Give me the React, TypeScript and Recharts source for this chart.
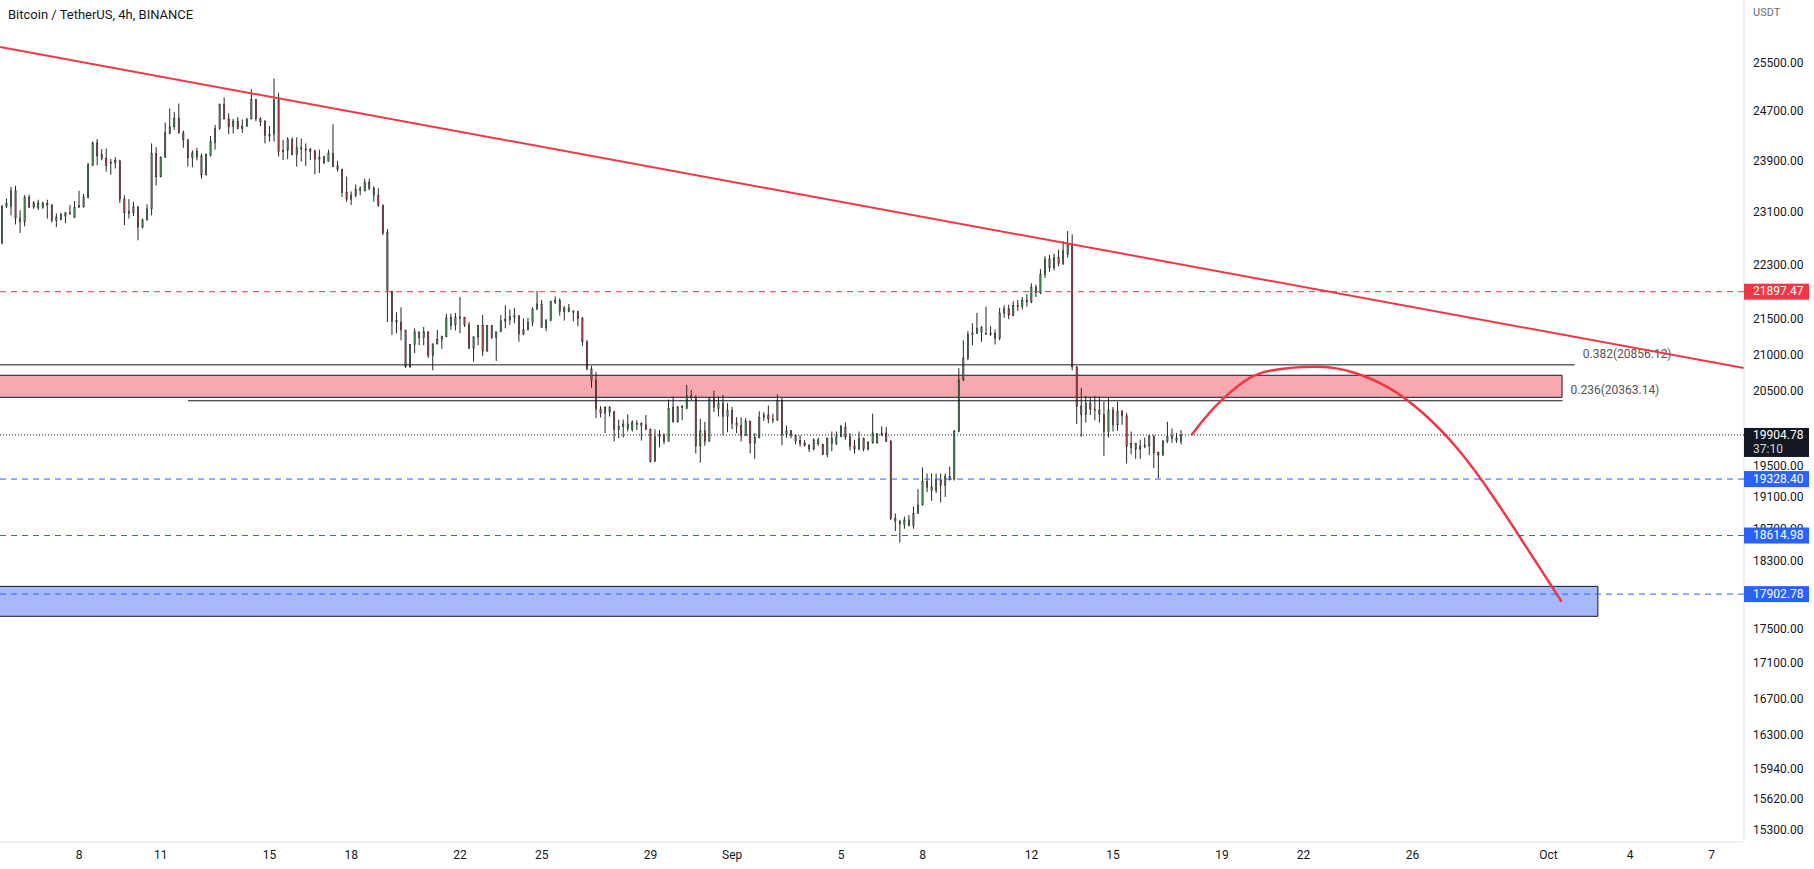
import React from "react";
import { ComposedChart, Bar, Line, XAxis, YAxis, ReferenceLine, ReferenceArea } from "recharts";

// BTC/USDT 4h candles, index 0 = Aug 5 00:00, one step = 4 hours
const candleOpen = [
  22400, 22620, 23180, 23180, 23420, 22940, 22940, 23320, 23170, 23160, 23160, 23220, 23200, 22960, 22980, 23030, 23060, 23010, 23160, 23170,
  23320, 23820, 24180, 23990, 23930, 23870, 23860, 23890, 23290, 23070, 23080, 23170, 22860, 22970, 23140, 24010, 23640, 23950, 24330, 24440,
  24580, 24340, 24230, 23940, 23950, 23970, 23670, 23980, 24180, 24410, 24810, 24570, 24450, 24530, 24410, 24450, 24570, 24890, 24570, 24530,
  24320, 24320, 24880, 24050, 24060, 24230, 23990, 24100, 24080, 24070, 24050, 23950, 23860, 23880, 24010, 23810, 23760, 23390, 23290, 23350,
  23430, 23420, 23550, 23460, 23350, 23200, 22780, 21900, 21480, 21460, 21346, 20830, 21140, 21318, 21240, 21320, 20990, 21150, 21210, 21250,
  21410, 21420, 21530, 21530, 21420, 21090, 21250, 21410, 21050, 21410, 21240, 21320, 21475, 21490, 21530, 21550, 21290, 21350, 21450, 21640,
  21720, 21380, 21480, 21740, 21770, 21610, 21610, 21620, 21610, 21510, 21180, 20800, 20640, 20250, 20200, 20270, 20210, 19980, 20020, 19990,
  19980, 20050, 20060, 20040, 19980, 19555, 19880, 19900, 19820, 20270, 20080, 20270, 20260, 20430, 20410, 19760, 19960, 19820, 20410, 20260,
  20330, 20150, 20230, 20060, 20030, 19900, 20090, 19800, 19870, 20140, 20170, 20120, 20100, 20370, 19910, 19960, 19900, 19830, 19800, 19770,
  19720, 19790, 19780, 19650, 19790, 19790, 19880, 20010, 19880, 19760, 19720, 19860, 19720, 19800, 19800, 19930, 19930, 19820, 18830, 18760,
  18750, 18740, 18740, 18890, 19000, 19300, 19230, 19180, 19320, 19250, 19320, 19330, 19950, 20650, 20950, 21280, 21300, 21310, 21300, 21290,
  21300, 21230, 21590, 21650, 21560, 21700, 21680, 21770, 21750, 21960, 21880, 22150, 22380, 22250, 22400, 22310, 22450, 22600, 20830, 20290,
  20180, 20330, 20250, 20240, 20180, 19950, 20240, 20040, 20220, 20160, 19740, 19790, 19720, 19750, 19760, 19890, 19680, 19640, 19820, 19860,
  19830, 19820,
];
const candleHigh = [
  22640, 23200, 23300, 23480, 23500, 23120, 23350, 23360, 23260, 23280, 23250, 23280, 23210, 23070, 23080, 23090, 23200, 23260, 23420, 23370,
  23860, 24200, 24240, 24080, 24090, 23920, 23950, 23910, 23350, 23290, 23250, 23180, 22990, 23210, 24170, 24110, 23960, 24510, 24740, 24680,
  24820, 24380, 24240, 24060, 24100, 24010, 24010, 24290, 24470, 24820, 24920, 24660, 24570, 24600, 24560, 24570, 25060, 24890, 24600, 24550,
  24450, 25240, 25000, 24225, 24270, 24270, 24270, 24250, 24170, 24100, 24070, 24070, 23960, 24070, 24480, 23890, 23760, 23640, 23410, 23520,
  23490, 23610, 23610, 23490, 23460, 23200, 22830, 21910, 21600, 21670, 21346, 21144, 21370, 21318, 21390, 21320, 21150, 21346, 21260, 21580,
  21580, 21590, 21820, 21530, 21460, 21250, 21410, 21560, 21410, 21410, 21320, 21560, 21700, 21640, 21660, 21560, 21510, 21520, 21670, 21910,
  21780, 21490, 21760, 21830, 21800, 21690, 21720, 21620, 21610, 21530, 21200, 20840, 20760, 20290, 20290, 20290, 20230, 20110, 20110, 20180,
  20100, 20100, 20070, 20170, 19990, 19980, 19970, 19930, 20380, 20420, 20290, 20300, 20580, 20510, 20440, 20120, 20080, 20410, 20500, 20420,
  20440, 20330, 20280, 20140, 20140, 20130, 20090, 19930, 20220, 20210, 20300, 20190, 20450, 20400, 20030, 19970, 19910, 19900, 19840, 19780,
  19860, 19870, 19790, 19870, 19950, 19950, 20040, 20070, 19930, 19840, 19950, 19870, 19820, 20190, 19930, 20020, 20010, 19840, 18890, 18810,
  18850, 18870, 18980, 19200, 19480, 19400, 19400, 19400, 19400, 19400, 19490, 19970, 20810, 21200, 21330, 21440, 21590, 21400, 21680, 21400,
  21350, 21660, 21700, 21710, 21760, 21780, 21820, 21860, 22020, 22000, 22230, 22420, 22440, 22460, 22520, 22650, 22800, 22750, 20830, 20540,
  20430, 20420, 20430, 20420, 20350, 20400, 20280, 20350, 20240, 20200, 19950, 19800, 19840, 19870, 19910, 19900, 19680, 19840, 20080, 19990,
  19930, 19970,
];
const candleLow = [
  22300, 22600, 23150, 23040, 22900, 22770, 22870, 23150, 23140, 23120, 23140, 22990, 22930, 22860, 22960, 22920, 23050, 23000, 23160, 23160,
  23300, 23810, 23820, 23900, 23720, 23670, 23770, 23230, 22890, 22990, 23030, 22660, 22840, 22960, 23040, 23500, 23630, 23940, 24320, 24390,
  24330, 24100, 23800, 23790, 23900, 23610, 23660, 23960, 24070, 24390, 24560, 24320, 24330, 24400, 24340, 24440, 24560, 24530, 24450, 24170,
  24200, 24200, 23960, 23905, 23920, 23980, 23800, 23880, 23810, 23905, 23680, 23700, 23840, 23880, 23790, 23720, 23320, 23250, 23200, 23320,
  23350, 23410, 23430, 23250, 23170, 22740, 21460, 21275, 21300, 21200, 20815, 20815, 21020, 21130, 21130, 20950, 20780, 21140, 21080, 21250,
  21350, 21340, 21300, 21390, 21080, 20900, 21130, 20980, 21040, 21220, 20910, 21320, 21370, 21420, 21440, 21180, 21270, 21340, 21400, 21640,
  21380, 21330, 21470, 21720, 21550, 21480, 21600, 21470, 21400, 21120, 20780, 20540, 20130, 20140, 19930, 20150, 19820, 19860, 19870, 19950,
  19950, 19970, 19830, 19970, 19540, 19555, 19740, 19780, 19820, 20070, 20070, 20100, 20250, 20370, 19660, 19540, 19760, 19820, 20210, 20150,
  19900, 19940, 19980, 19930, 19820, 19890, 19660, 19590, 19860, 20090, 20060, 20060, 20100, 19770, 19870, 19860, 19780, 19750, 19750, 19680,
  19700, 19760, 19640, 19610, 19690, 19770, 19880, 19840, 19700, 19660, 19700, 19690, 19700, 19790, 19790, 19890, 19820, 18810, 18670, 18530,
  18700, 18730, 18700, 18890, 18990, 19160, 19050, 19150, 19030, 19100, 19310, 19310, 19940, 20630, 20920, 21130, 21290, 21180, 21280, 21260,
  21140, 21200, 21520, 21500, 21540, 21620, 21640, 21680, 21730, 21820, 21860, 22100, 22190, 22210, 22270, 22290, 22400, 20780, 20050, 19880,
  20070, 20170, 20100, 20070, 19630, 19870, 19950, 19960, 20040, 19530, 19650, 19590, 19590, 19730, 19640, 19470, 19340, 19630, 19800, 19800,
  19800, 19780,
];
const candleClose = [
  22620, 23180, 23220, 23420, 23000, 23000, 23320, 23170, 23230, 23230, 23230, 23200, 22960, 23010, 23050, 23080, 23080, 23160, 23190, 23320,
  23830, 24180, 23970, 23930, 23820, 23850, 23900, 23290, 23080, 23100, 23170, 22860, 22970, 23140, 24010, 23640, 23950, 24340, 24440, 24580,
  24340, 24230, 23940, 24020, 24040, 23670, 23990, 24200, 24410, 24810, 24570, 24440, 24530, 24410, 24450, 24570, 24890, 24570, 24520, 24300,
  24290, 24880, 24040, 24060, 24240, 23990, 24100, 24080, 24070, 24040, 23920, 23920, 23960, 24010, 23800, 23760, 23390, 23290, 23350, 23445,
  23450, 23550, 23460, 23350, 23200, 22770, 21920, 21465, 21460, 21346, 20830, 21140, 21320, 21240, 21320, 20990, 21150, 21210, 21260, 21520,
  21530, 21530, 21525, 21420, 21090, 21250, 21410, 21050, 21410, 21240, 21320, 21475, 21500, 21540, 21550, 21290, 21350, 21450, 21640, 21720,
  21380, 21490, 21760, 21770, 21610, 21660, 21660, 21600, 21510, 21180, 20800, 20640, 20250, 20200, 20270, 20210, 19980, 20020, 20050, 20050,
  20070, 20060, 20030, 19980, 19555, 19880, 19910, 19820, 20260, 20080, 20280, 20290, 20430, 20410, 19760, 19960, 19820, 20410, 20270, 20330,
  20150, 20230, 20060, 20030, 19900, 20090, 19800, 19870, 20140, 20170, 20120, 20100, 20370, 19910, 19960, 19900, 19820, 19790, 19770, 19720,
  19840, 19840, 19650, 19860, 19860, 19880, 20016, 19880, 19750, 19720, 19860, 19720, 19810, 19930, 19920, 19905, 19820, 18830, 18790, 18790,
  18810, 18810, 18890, 19000, 19300, 19220, 19180, 19320, 19250, 19360, 19360, 19950, 20650, 20950, 21280, 21300, 21370, 21380, 21290, 21300,
  21230, 21590, 21650, 21560, 21700, 21680, 21770, 21750, 21960, 21880, 22150, 22380, 22250, 22400, 22310, 22500, 22600, 20830, 20290, 20180,
  20330, 20250, 20240, 20180, 19950, 20240, 20040, 20220, 20160, 19750, 19790, 19720, 19760, 19770, 19890, 19670, 19640, 19820, 19890, 19890,
  19860, 19905,
];

// time axis: candle index of each day label
const dayTicks = [18, 36, 60, 78, 102, 120, 144, 162, 186, 204, 228, 246, 270, 288, 312, 342, 360, 378];
const dayLabels = ["8", "11", "15", "18", "22", "25", "29", "Sep", "5", "8", "12", "15", "19", "22", "26", "Oct", "4", "7"];
const priceTicks = [25500, 24700, 23900, 23100, 22300, 21500, 21000, 20500, 19500, 19100, 18700, 18300, 17500, 17100, 16700, 16300, 15940, 15620, 15300];

// drawings
const trendLine = [
  { i: 0.55, p: 25773 },
  { i: 385.12, p: 20812 },
];
const projectionArc = [
  { i: 263.3, p: 19904 },
  { i: 268.4, p: 20276 },
  { i: 274.8, p: 20622 },
  { i: 281.2, p: 20782 },
  { i: 291.4, p: 20830 },
  { i: 299.0, p: 20750 },
  { i: 306.7, p: 20543 },
  { i: 314.3, p: 20198 },
  { i: 322.0, p: 19720 },
  { i: 329.6, p: 19122 },
  { i: 337.3, p: 18456 },
  { i: 344.9, p: 17814 },
];
const resistanceLevel = 21897.47;
const supportLevels = [19328.4, 18614.98, 17902.78];
const lastPrice = 19904.78;
const countdown = "37:10";
const fibLevels = [
  { label: "0.382(20856.12)", price: 20856.12, from: 0.55, to: 347.8 },
  { label: "0.236(20363.14)", price: 20363.14, from: 42.0, to: 345.1 },
];
const supplyZone = { from: 0, to: 345.0, low: 20410, high: 20712 };
const demandZone = { from: 0, to: 352.9, low: 17640, high: 17995 };

const candles = candleOpen.map((o, i) => ({
  i,
  o,
  h: candleHigh[i],
  l: candleLow[i],
  c: candleClose[i],
}));

const UP = "#4caf68";
const DOWN = "#d9505e";
const INK = "#262626";
const RED = "#f23645";
const BLUE = "#2962ff";
const FONT = "Roboto, 'Noto Sans', sans-serif";

const Candle = (props: any) => {
  const { x, y, width, height, payload } = props;
  if (!payload || height == null) return null;
  const { o, h, l, c } = payload;
  const span = Math.log(h) - Math.log(l);
  const at = (v: number) => (span > 0 ? y + ((Math.log(h) - Math.log(v)) / span) * height : y);
  const cx = x + width / 2;
  const top = at(Math.max(o, c));
  const bot = at(Math.min(o, c));
  return (
    <g>
      <line x1={cx} x2={cx} y1={y} y2={y + height} stroke={INK} strokeWidth={1} />
      <rect
        x={x + 0.3}
        y={top}
        width={width - 0.6}
        height={Math.max(bot - top, 1)}
        fill={c >= o ? UP : DOWN}
        stroke={INK}
        strokeWidth={0.6}
      />
    </g>
  );
};

const AxisTag = (props: any) => {
  const { viewBox, text, sub, fill } = props;
  if (!viewBox) return null;
  const left = viewBox.x + viewBox.width;
  const y = viewBox.y;
  if (sub) {
    return (
      <g>
        <rect x={left} y={y - 7} width={65} height={29} fill={fill} />
        <text x={left + 9} y={y + 1} fill="#fff" fontSize={12} fontFamily={FONT} dominantBaseline="middle">
          {text}
        </text>
        <text x={left + 9} y={y + 15} fill="#d1d4dc" fontSize={12} fontFamily={FONT} dominantBaseline="middle">
          {sub}
        </text>
      </g>
    );
  }
  return (
    <g>
      <rect x={left} y={y - 8} width={65} height={16} fill={fill} />
      <text x={left + 9} y={y + 0.5} fill="#fff" fontSize={12} fontFamily={FONT} dominantBaseline="middle">
        {text}
      </text>
    </g>
  );
};

const FibTag = (props: any) => {
  const { viewBox, text } = props;
  if (!viewBox) return null;
  return (
    <text
      x={viewBox.x + viewBox.width + 8}
      y={viewBox.y - 10}
      fill="#555"
      fontSize={12}
      fontFamily={FONT}
      dominantBaseline="middle"
    >
      {text}
    </text>
  );
};

export default function App() {
  return (
    <div style={{ position: "absolute", left: 0, top: 0, width: 1814, height: 869, background: "#fff", overflow: "hidden" }}>
      <ComposedChart
        width={1814}
        height={869}
        data={candles}
        margin={{ top: 0, right: 0, bottom: 0, left: 0 }}
        style={{ fontFamily: FONT }}
      >
        <XAxis
          type="number"
          dataKey="i"
          domain={[0.55, 385.12]}
          allowDataOverflow
          ticks={dayTicks}
          interval={0}
          tickFormatter={(v: number) => dayLabels[dayTicks.indexOf(v)] ?? ""}
          height={27}
          axisLine={{ stroke: "#e0e3eb" }}
          tickLine={false}
          tick={{ fill: "#131722", fontSize: 12 }}
        />
        <YAxis
          orientation="right"
          scale="log"
          domain={[15178, 26593]}
          allowDataOverflow
          ticks={priceTicks}
          interval={0}
          width={70}
          tickFormatter={(v: number) => v.toFixed(2)}
          axisLine={{ stroke: "#e0e3eb" }}
          tickLine={false}
          tickSize={0}
          tickMargin={9}
          tick={{ fill: "#131722", fontSize: 12 }}
        />
        <ReferenceArea
          x1={supplyZone.from}
          x2={supplyZone.to}
          y1={supplyZone.low}
          y2={supplyZone.high}
          fill="#f8a9af"
          fillOpacity={1}
          stroke="#131722"
          strokeWidth={1}
          ifOverflow="visible"
        />
        <ReferenceArea
          x1={demandZone.from}
          x2={demandZone.to}
          y1={demandZone.low}
          y2={demandZone.high}
          fill="#a7b9fb"
          fillOpacity={1}
          stroke="#131722"
          strokeWidth={1}
          ifOverflow="visible"
        />
        {fibLevels.map((f) => (
          <ReferenceLine
            key={f.label}
            segment={[
              { x: f.from, y: f.price },
              { x: f.to, y: f.price },
            ]}
            stroke="#131722"
            strokeWidth={1}
            ifOverflow="visible"
            label={<FibTag text={f.label} />}
          />
        ))}
        <Bar dataKey={(d: any) => [d.l, d.h]} barSize={4} shape={<Candle />} isAnimationActive={false} />
        <Line data={trendLine} dataKey="p" type="linear" stroke={RED} strokeWidth={2} dot={false} activeDot={false} isAnimationActive={false} />
        <Line data={projectionArc} dataKey="p" type="natural" stroke={RED} strokeWidth={2.5} dot={false} activeDot={false} isAnimationActive={false} />
        <ReferenceLine
          y={lastPrice}
          stroke="#131722"
          strokeDasharray="1 2"
          zIndex={2000}
          label={<AxisTag text={lastPrice.toFixed(2)} sub={countdown} fill="#131722" />}
        />
        <ReferenceLine
          y={resistanceLevel}
          stroke={RED}
          strokeDasharray="6 5"
          zIndex={2000}
          label={<AxisTag text={resistanceLevel.toFixed(2)} fill={RED} />}
        />
        {supportLevels.map((v) => (
          <ReferenceLine
            key={v}
            y={v}
            stroke={BLUE}
            strokeDasharray="6 5"
            zIndex={2000}
            label={<AxisTag text={v.toFixed(2)} fill={BLUE} />}
          />
        ))}
      </ComposedChart>
      <div style={{ position: "absolute", left: 8, top: 7, fontFamily: FONT, fontSize: 13, color: "#131722" }}>
        Bitcoin / TetherUS, 4h, BINANCE
      </div>
      <div style={{ position: "absolute", left: 1753, top: 6, fontFamily: FONT, fontSize: 11, color: "#6a6d78" }}>USDT</div>
    </div>
  );
}
